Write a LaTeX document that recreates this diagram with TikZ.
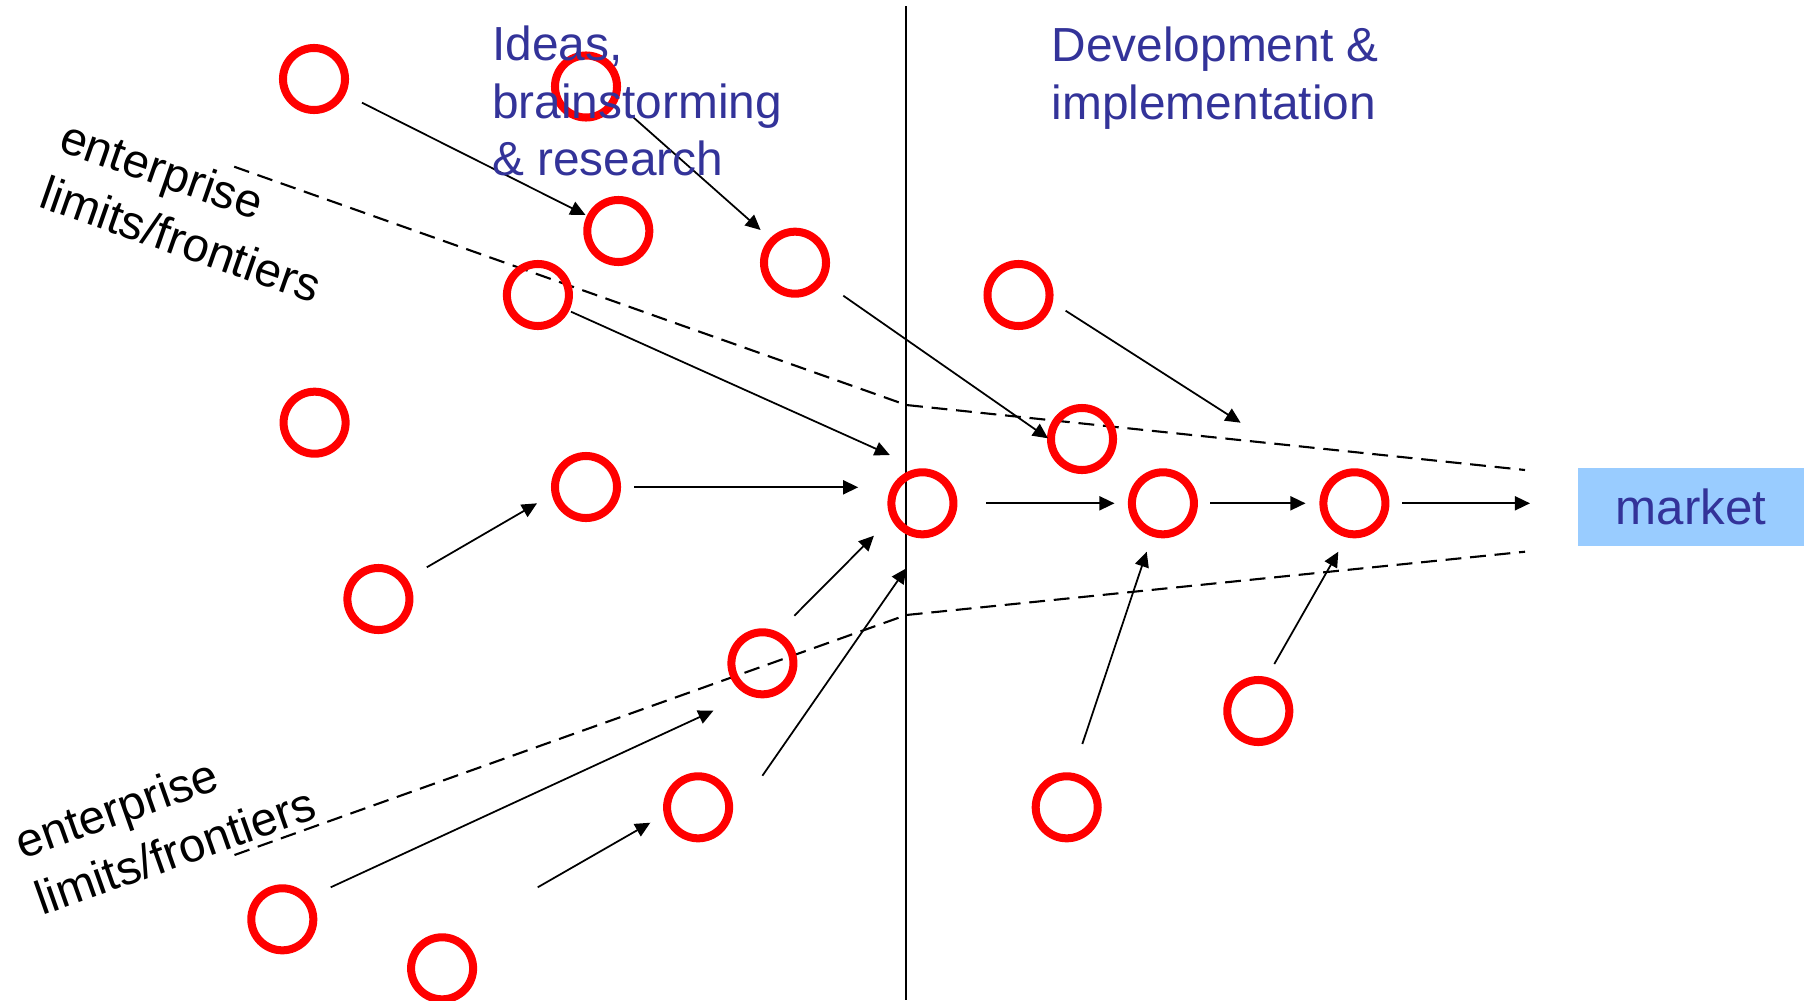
\documentclass[tikz,border=0pt]{standalone}
\usepackage{fontspec}
\setmainfont{Liberation Sans}
\usetikzlibrary{arrows.meta}
\definecolor{ideablue}{RGB}{51,51,153}
\definecolor{marketblue}{RGB}{153,204,255}
\begin{document}
\begin{tikzpicture}[x=0.01cm,y=-0.01cm,
  idea/.style={circle,draw=red,line width=2.28pt,minimum size=0.62cm,inner sep=0pt},
  arr/.style={-{Triangle[length=4.3pt,width=4pt]},line width=0.5pt},
  frontier/.style={dash pattern=on 4.5pt off 2.5pt,line width=0.6pt},
  phase/.style={text=ideablue,align=left,anchor=north west,inner sep=0pt,font=\fontsize{13.6}{16.3}\selectfont},
  limitlabel/.style={align=left,anchor=north west,inner sep=0pt,font=\fontsize{13.5}{17}\selectfont}]
\useasboundingbox (0,0) rectangle (1804,1000);

% phase divider
\coordinate (divtop) at (906.3,6);
\coordinate (divbot) at (906.3,1000);
\draw[line width=0.5pt] (divtop) -- (divbot);

% enterprise frontiers
\coordinate (u0) at (234.2,166.7);
\coordinate (u1) at (906.3,405);
\coordinate (u2) at (1525,470);
\coordinate (l0) at (234.5,855);
\coordinate (l1) at (906.3,615);
\coordinate (l2) at (1525,551.7);
\draw[frontier] (u0) -- (u1) -- (u2);
\draw[frontier] (l0) -- (l1) -- (l2);

% market
\node[fill=marketblue,minimum width=2.263cm,minimum height=0.774cm,inner sep=0pt,
      text=ideablue,font=\fontsize{14}{16}\selectfont] (market) at (1690.85,507) {market};

% ideas
\node[idea] (c1) at (314,79) {};
\node[idea] (c2) at (586,86.5) {};
\node[idea] (c3) at (618.3,231) {};
\node[idea] (c4) at (795,262.7) {};
\node[idea] (c5) at (537.9,295) {};
\node[idea] (c6) at (314.6,422.7) {};
\node[idea] (c7) at (586,487) {};
\node[idea] (c8) at (378.4,599) {};
\node[idea] (c9) at (922.4,503.3) {};
\node[idea] (c10) at (762.4,663.3) {};
\node[idea] (c11) at (698.1,807.3) {};
\node[idea] (c12) at (282.3,919.3) {};
\node[idea] (c13) at (442.1,968.3) {};
\node[idea] (c14) at (1018.5,295) {};
\node[idea] (c15) at (1082,439) {};
\node[idea] (c16) at (1162.9,503.3) {};
\node[idea] (c17) at (1354.4,503.3) {};
\node[idea] (c18) at (1258.3,711) {};
\node[idea] (c19) at (1066.7,807.3) {};

% arrow end points
\coordinate (a1) at (362,102.7);    \coordinate (b1) at (585.5,215);
\coordinate (a2) at (633.3,117.3);  \coordinate (b2) at (760.6,230);
\coordinate (a3) at (571,311.7);    \coordinate (b3) at (889.8,455);
\coordinate (a4) at (634.3,487.3);  \coordinate (b4) at (858.2,487.3);
\coordinate (a5) at (843.3,295.7);  \coordinate (b5) at (1048,438.3);
\coordinate (a6) at (1065.6,310.7); \coordinate (b6) at (1240.6,422.7);
\coordinate (a7) at (986,503.3);    \coordinate (b7) at (1114.5,503.3);
\coordinate (a8) at (1210,503.3);   \coordinate (b8) at (1305.5,503.3);
\coordinate (a9) at (1402,503.3);   \coordinate (b9) at (1530,503.3);
\coordinate (a10) at (426.8,567.3); \coordinate (b10) at (537,503.3);
\coordinate (a11) at (794.3,615.7); \coordinate (b11) at (873.9,535.7);
\coordinate (a12) at (762.4,775.7); \coordinate (b12) at (906.3,568.3);
\coordinate (a13) at (330.7,887.3); \coordinate (b13) at (713.4,710.7);
\coordinate (a14) at (537.7,887.3); \coordinate (b14) at (650.3,822.7);
\coordinate (a15) at (1082.3,744);  \coordinate (b15) at (1146.7,551.7);
\coordinate (a16) at (1274.3,664);  \coordinate (b16) at (1338.3,551.7);
\foreach \i in {1,...,16} {\draw[arr] (a\i) -- (b\i);}

% texts
\node[phase] (ideas) at (491.5,25.5) {Ideas,\\brainstorming\\\& research};
\node[phase] (dev) at (1051,26.5) {Development \&\\implementation};
\node[limitlabel,rotate=-19.3] (limup) at (68,117) {enterprise\\limits/frontiers};
\node[limitlabel,rotate=19.5] (limlow) at (10.4,826.3) {enterprise\\limits/frontiers};
\end{tikzpicture}
\end{document}
